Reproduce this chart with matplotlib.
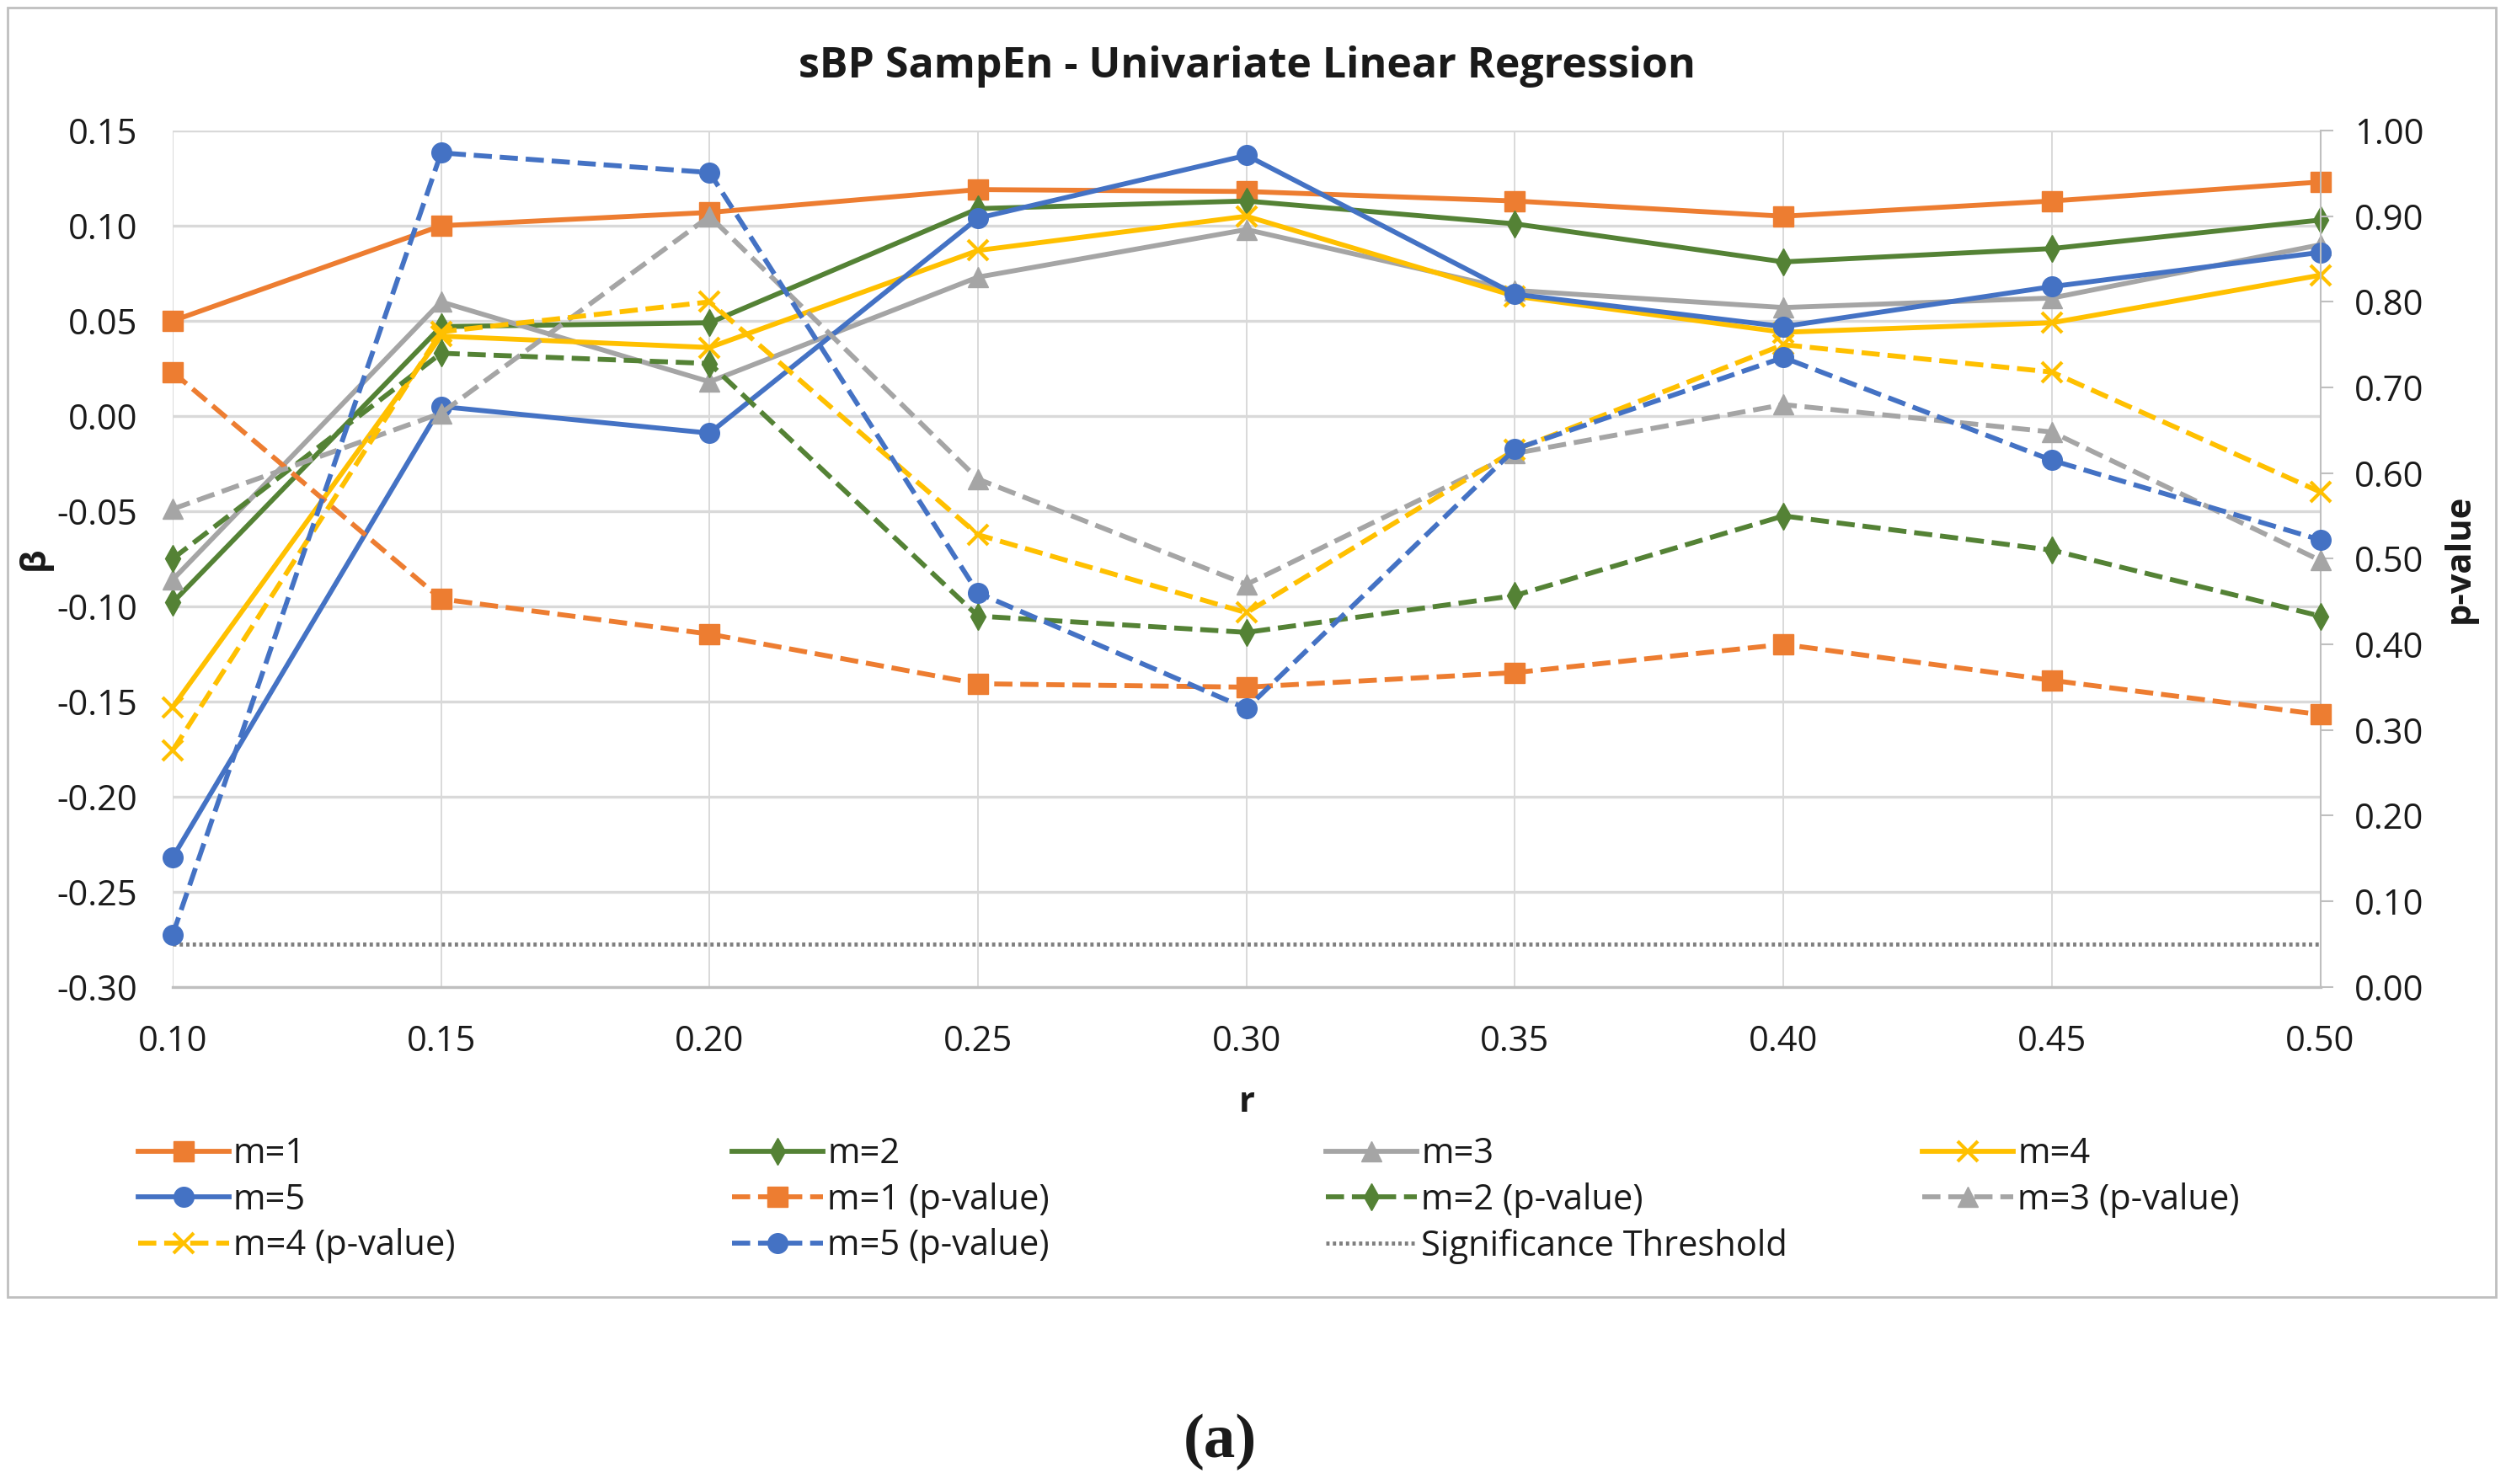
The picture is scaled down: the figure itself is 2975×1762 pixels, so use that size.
import matplotlib
matplotlib.use("Agg")
import matplotlib.pyplot as plt
from matplotlib.patches import Rectangle
from matplotlib.ticker import FormatStrFormatter

# ---- data -------------------------------------------------------------------
r_vals = [0.10, 0.15, 0.20, 0.25, 0.30, 0.35, 0.40, 0.45, 0.50]

beta_m1 = [0.050, 0.100, 0.107, 0.119, 0.118, 0.113, 0.105, 0.113, 0.123]
beta_m2 = [-0.098, 0.047, 0.049, 0.109, 0.113, 0.101, 0.081, 0.088, 0.103]
beta_m3 = [-0.086, 0.060, 0.018, 0.073, 0.098, 0.066, 0.057, 0.062, 0.090]
beta_m4 = [-0.153, 0.042, 0.036, 0.087, 0.105, 0.063, 0.044, 0.049, 0.074]
beta_m5 = [-0.232, 0.005, -0.009, 0.104, 0.137, 0.064, 0.047, 0.068, 0.086]

p_m1 = [0.718, 0.453, 0.412, 0.354, 0.350, 0.367, 0.400, 0.358, 0.318]
p_m2 = [0.500, 0.740, 0.728, 0.433, 0.414, 0.457, 0.550, 0.510, 0.433]
p_m3 = [0.558, 0.670, 0.900, 0.593, 0.470, 0.623, 0.680, 0.648, 0.498]
p_m4 = [0.276, 0.765, 0.800, 0.528, 0.437, 0.627, 0.750, 0.718, 0.578]
p_m5 = [0.061, 0.974, 0.951, 0.460, 0.325, 0.628, 0.735, 0.615, 0.522]

threshold = 0.05

labels = ["m=1", "m=2", "m=3", "m=4", "m=5"]
colors = ["#ED7D31", "#548235", "#A5A5A5", "#FFC000", "#4472C4"]
markers = ["s", "d", "^", "x", "o"]

plt.rcParams["font.family"] = ["Open Sans", "DejaVu Sans"]
TXT = "#1a1a1a"
FS = 30

fig = plt.figure(figsize=(29.75, 17.62), dpi=100)
ax = fig.add_axes([0.0689, 0.335, 0.857, 0.577])
ax2 = ax.twinx()

LW = 4.2
MS = 17

handles = {}
betas = [beta_m1, beta_m2, beta_m3, beta_m4, beta_m5]
pvals = [p_m1, p_m2, p_m3, p_m4, p_m5]


def mk_style(mk):
    ms = MS - 1 if mk == "d" else MS
    mew = 3 if mk == "x" else 1
    return ms, mew


for lab, col, mk, b in zip(labels, colors, markers, betas):
    ms, mew = mk_style(mk)
    h, = ax.plot(r_vals, b, color=col, lw=LW, marker=mk, ms=ms, mew=mew,
                 mec=col, clip_on=False, zorder=3)
    handles[lab] = h
for lab, col, mk, p in zip(labels, colors, markers, pvals):
    ms, mew = mk_style(mk)
    h, = ax2.plot(r_vals, p, color=col, lw=LW, ls="--", marker=mk, ms=ms,
                  mew=mew, mec=col, clip_on=False, zorder=3)
    handles[lab + " (p-value)"] = h
h, = ax2.plot([r_vals[0], r_vals[-1]], [threshold, threshold], color="#7F7F7F",
              lw=3.5, ls=(0, (0.8, 0.8)))
handles["Significance Threshold"] = h

# ---- axes -------------------------------------------------------------------
ax.set_xlim(0.10, 0.50)
ax.set_ylim(-0.30, 0.15)
ax2.set_ylim(0.0, 1.0)
ax.set_xticks(r_vals)
ax.set_yticks([0.15, 0.10, 0.05, 0.00, -0.05, -0.10, -0.15, -0.20, -0.25, -0.30])
ax2.set_yticks([i / 10 for i in range(11)])
ax.xaxis.set_major_formatter(FormatStrFormatter("%.2f"))
ax.yaxis.set_major_formatter(FormatStrFormatter("%.2f"))
ax2.yaxis.set_major_formatter(FormatStrFormatter("%.2f"))

ax.grid(axis="y", color="#D9D9D9", lw=2.4, zorder=0)
ax.grid(axis="x", color="#D9D9D9", lw=1.4, zorder=0)
ax.set_axisbelow(True)

for a in (ax, ax2):
    for s in ("top", "left", "right", "bottom"):
        a.spines[s].set_visible(False)
ax2.spines["right"].set_visible(True)
ax2.spines["right"].set_color("#BFBFBF")
ax2.spines["right"].set_linewidth(1.5)
ax.spines["bottom"].set_visible(True)
ax.spines["bottom"].set_color("#BFBFBF")
ax.spines["bottom"].set_linewidth(2.4)

ax.tick_params(axis="y", length=0, pad=30, labelsize=FS, labelcolor=TXT)
ax.tick_params(axis="x", length=0, pad=32, labelsize=FS, labelcolor=TXT)
ax2.tick_params(axis="y", length=11, width=1.5, color="#BFBFBF", pad=18,
                labelsize=FS, labelcolor=TXT)

ax.set_xlabel("r", fontsize=FS, fontweight="bold", color=TXT, labelpad=22)
ax.set_ylabel("β", fontsize=FS, fontweight="bold", color=TXT, labelpad=4)
ax2.set_ylabel("p-value", fontsize=FS, fontweight="bold", color=TXT,
               rotation=90, labelpad=16)

fig.text(0.4975, 0.955, "sBP SampEn - Univariate Linear Regression",
         ha="center", va="center", fontsize=36, fontweight="bold", color=TXT)

# ---- legend (4 equal columns, row-major) ------------------------------------
order = ["m=1", "m=2", "m=3", "m=4",
         "m=5", "m=1 (p-value)", "m=2 (p-value)", "m=3 (p-value)",
         "m=4 (p-value)", "m=5 (p-value)", "Significance Threshold"]
col_x = [0.048, 0.285, 0.522, 0.760]
for c in range(4):
    names = order[c::4]
    fig.legend([handles[n] for n in names], names,
               loc="upper left", bbox_to_anchor=(col_x[c], 0.246),
               frameon=False, fontsize=FS, handlelength=2.6,
               handletextpad=0.12, labelspacing=0.3, borderpad=0,
               labelcolor=TXT)

# chart border
fig.patches.append(Rectangle((0.003, 0.126), 0.993, 0.869,
                             transform=fig.transFigure, fill=False,
                             edgecolor="#BFBFBF", lw=2))

fig.text(0.487, 0.028, "(a)", ha="center", va="center", fontsize=54,
         fontweight="bold", color=TXT,
         family=["Liberation Serif", "DejaVu Serif"])

fig.savefig("out.png", dpi=100)
